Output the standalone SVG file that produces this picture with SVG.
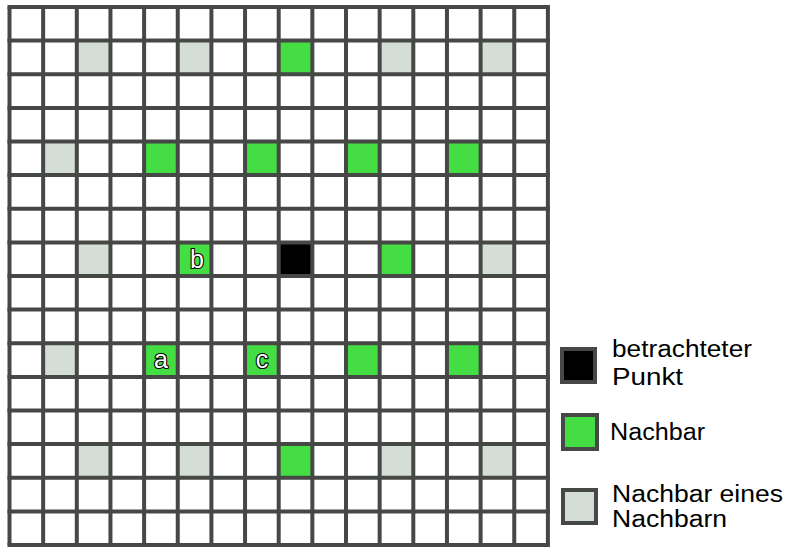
<svg xmlns="http://www.w3.org/2000/svg" width="787" height="547" viewBox="0 0 787 547">
<style>
.g{fill:#44dd44}
.n{fill:#d4ded6}
.k{fill:#000}
.grid{fill:none;stroke:#464846;stroke-width:4}
.lbl{font-family:"Liberation Sans",Arial,sans-serif;font-size:25px;fill:#fff;stroke:#000;stroke-width:2.2;paint-order:stroke;stroke-linejoin:round;text-anchor:middle}
.lt{font-family:"Liberation Sans",Arial,sans-serif;font-size:23px;fill:#000}
.lb{stroke:#464846;stroke-width:4}
</style>
<rect width="787" height="547" fill="#fff"/>
<g id="cells">
<g id="r1c2"><rect class="n" x="76.8" y="40.6" width="33.6" height="33.6"/></g>
<g id="r1c5"><rect class="n" x="177.8" y="40.6" width="33.6" height="33.6"/></g>
<g id="r1c8"><rect class="g" x="278.7" y="40.6" width="33.6" height="33.6"/></g>
<g id="r1c11"><rect class="n" x="379.7" y="40.6" width="33.6" height="33.6"/></g>
<g id="r1c14"><rect class="n" x="480.6" y="40.6" width="33.6" height="33.6"/></g>
<g id="r4c1"><rect class="n" x="43.2" y="141.5" width="33.6" height="33.6"/></g>
<g id="r4c4"><rect class="g" x="144.1" y="141.5" width="33.6" height="33.6"/></g>
<g id="r4c7"><rect class="g" x="245.1" y="141.5" width="33.6" height="33.6"/></g>
<g id="r4c10"><rect class="g" x="346" y="141.5" width="33.6" height="33.6"/></g>
<g id="r4c13"><rect class="g" x="447" y="141.5" width="33.6" height="33.6"/></g>
<g id="r7c2"><rect class="n" x="76.8" y="242.4" width="33.6" height="33.6"/></g>
<g id="b"><rect class="g" x="177.8" y="242.4" width="33.6" height="33.6"/><text class="lbl" x="197" y="268">b</text></g>
<g id="center"><rect class="k" x="278.7" y="242.4" width="33.6" height="33.6"/></g>
<g id="r7c11"><rect class="g" x="379.7" y="242.4" width="33.6" height="33.6"/></g>
<g id="r7c14"><rect class="n" x="480.6" y="242.4" width="33.6" height="33.6"/></g>
<g id="r10c1"><rect class="n" x="43.2" y="343.3" width="33.6" height="33.6"/></g>
<g id="a"><rect class="g" x="144.1" y="343.3" width="33.6" height="33.6"/><text class="lbl" x="161" y="368">a</text></g>
<g id="c"><rect class="g" x="245.1" y="343.3" width="33.6" height="33.6"/><text class="lbl" x="262" y="368">c</text></g>
<g id="r10c10"><rect class="g" x="346" y="343.3" width="33.6" height="33.6"/></g>
<g id="r10c13"><rect class="g" x="447" y="343.3" width="33.6" height="33.6"/></g>
<g id="r13c2"><rect class="n" x="76.8" y="444.1" width="33.6" height="33.6"/></g>
<g id="r13c5"><rect class="n" x="177.8" y="444.1" width="33.6" height="33.6"/></g>
<g id="r13c8"><rect class="g" x="278.7" y="444.1" width="33.6" height="33.6"/></g>
<g id="r13c11"><rect class="n" x="379.7" y="444.1" width="33.6" height="33.6"/></g>
<g id="r13c14"><rect class="n" x="480.6" y="444.1" width="33.6" height="33.6"/></g>
</g>
<g id="gridlines">
<path class="grid" d="M9.5 7V545M43.15 7V545M76.8 7V545M110.45 7V545M144.1 7V545M177.75 7V545M211.4 7V545M245.05 7V545M278.7 7V545M312.35 7V545M346 7V545M379.65 7V545M413.3 7V545M446.95 7V545M480.6 7V545M514.25 7V545M547.9 7V545"/>
<path class="grid" d="M7.5 7H549.9M7.5 40.6H549.9M7.5 74.25H549.9M7.5 107.9H549.9M7.5 141.5H549.9M7.5 175.1H549.9M7.5 208.75H549.9M7.5 242.4H549.9M7.5 276H549.9M7.5 309.6H549.9M7.5 343.25H549.9M7.5 376.9H549.9M7.5 410.5H549.9M7.5 444.1H549.9M7.5 477.75H549.9M7.5 511.4H549.9M7.5 545H549.9"/>
</g>
<g id="legend">
<g id="leg-point"><rect class="k lb" x="562" y="349" width="33" height="33"/><text class="lt" x="612" y="357" textLength="140" lengthAdjust="spacingAndGlyphs">betrachteter</text><text class="lt" x="612" y="385" textLength="71" lengthAdjust="spacingAndGlyphs">Punkt</text></g>
<g id="leg-neighbor"><rect class="g lb" x="563" y="415" width="34" height="34"/><text class="lt" x="610" y="440" textLength="95" lengthAdjust="spacingAndGlyphs">Nachbar</text></g>
<g id="leg-nn"><rect class="n lb" x="563" y="490" width="33" height="33"/><text class="lt" x="612" y="502" textLength="171" lengthAdjust="spacingAndGlyphs">Nachbar eines</text><text class="lt" x="612" y="527" textLength="115" lengthAdjust="spacingAndGlyphs">Nachbarn</text></g>
</g>
</svg>
